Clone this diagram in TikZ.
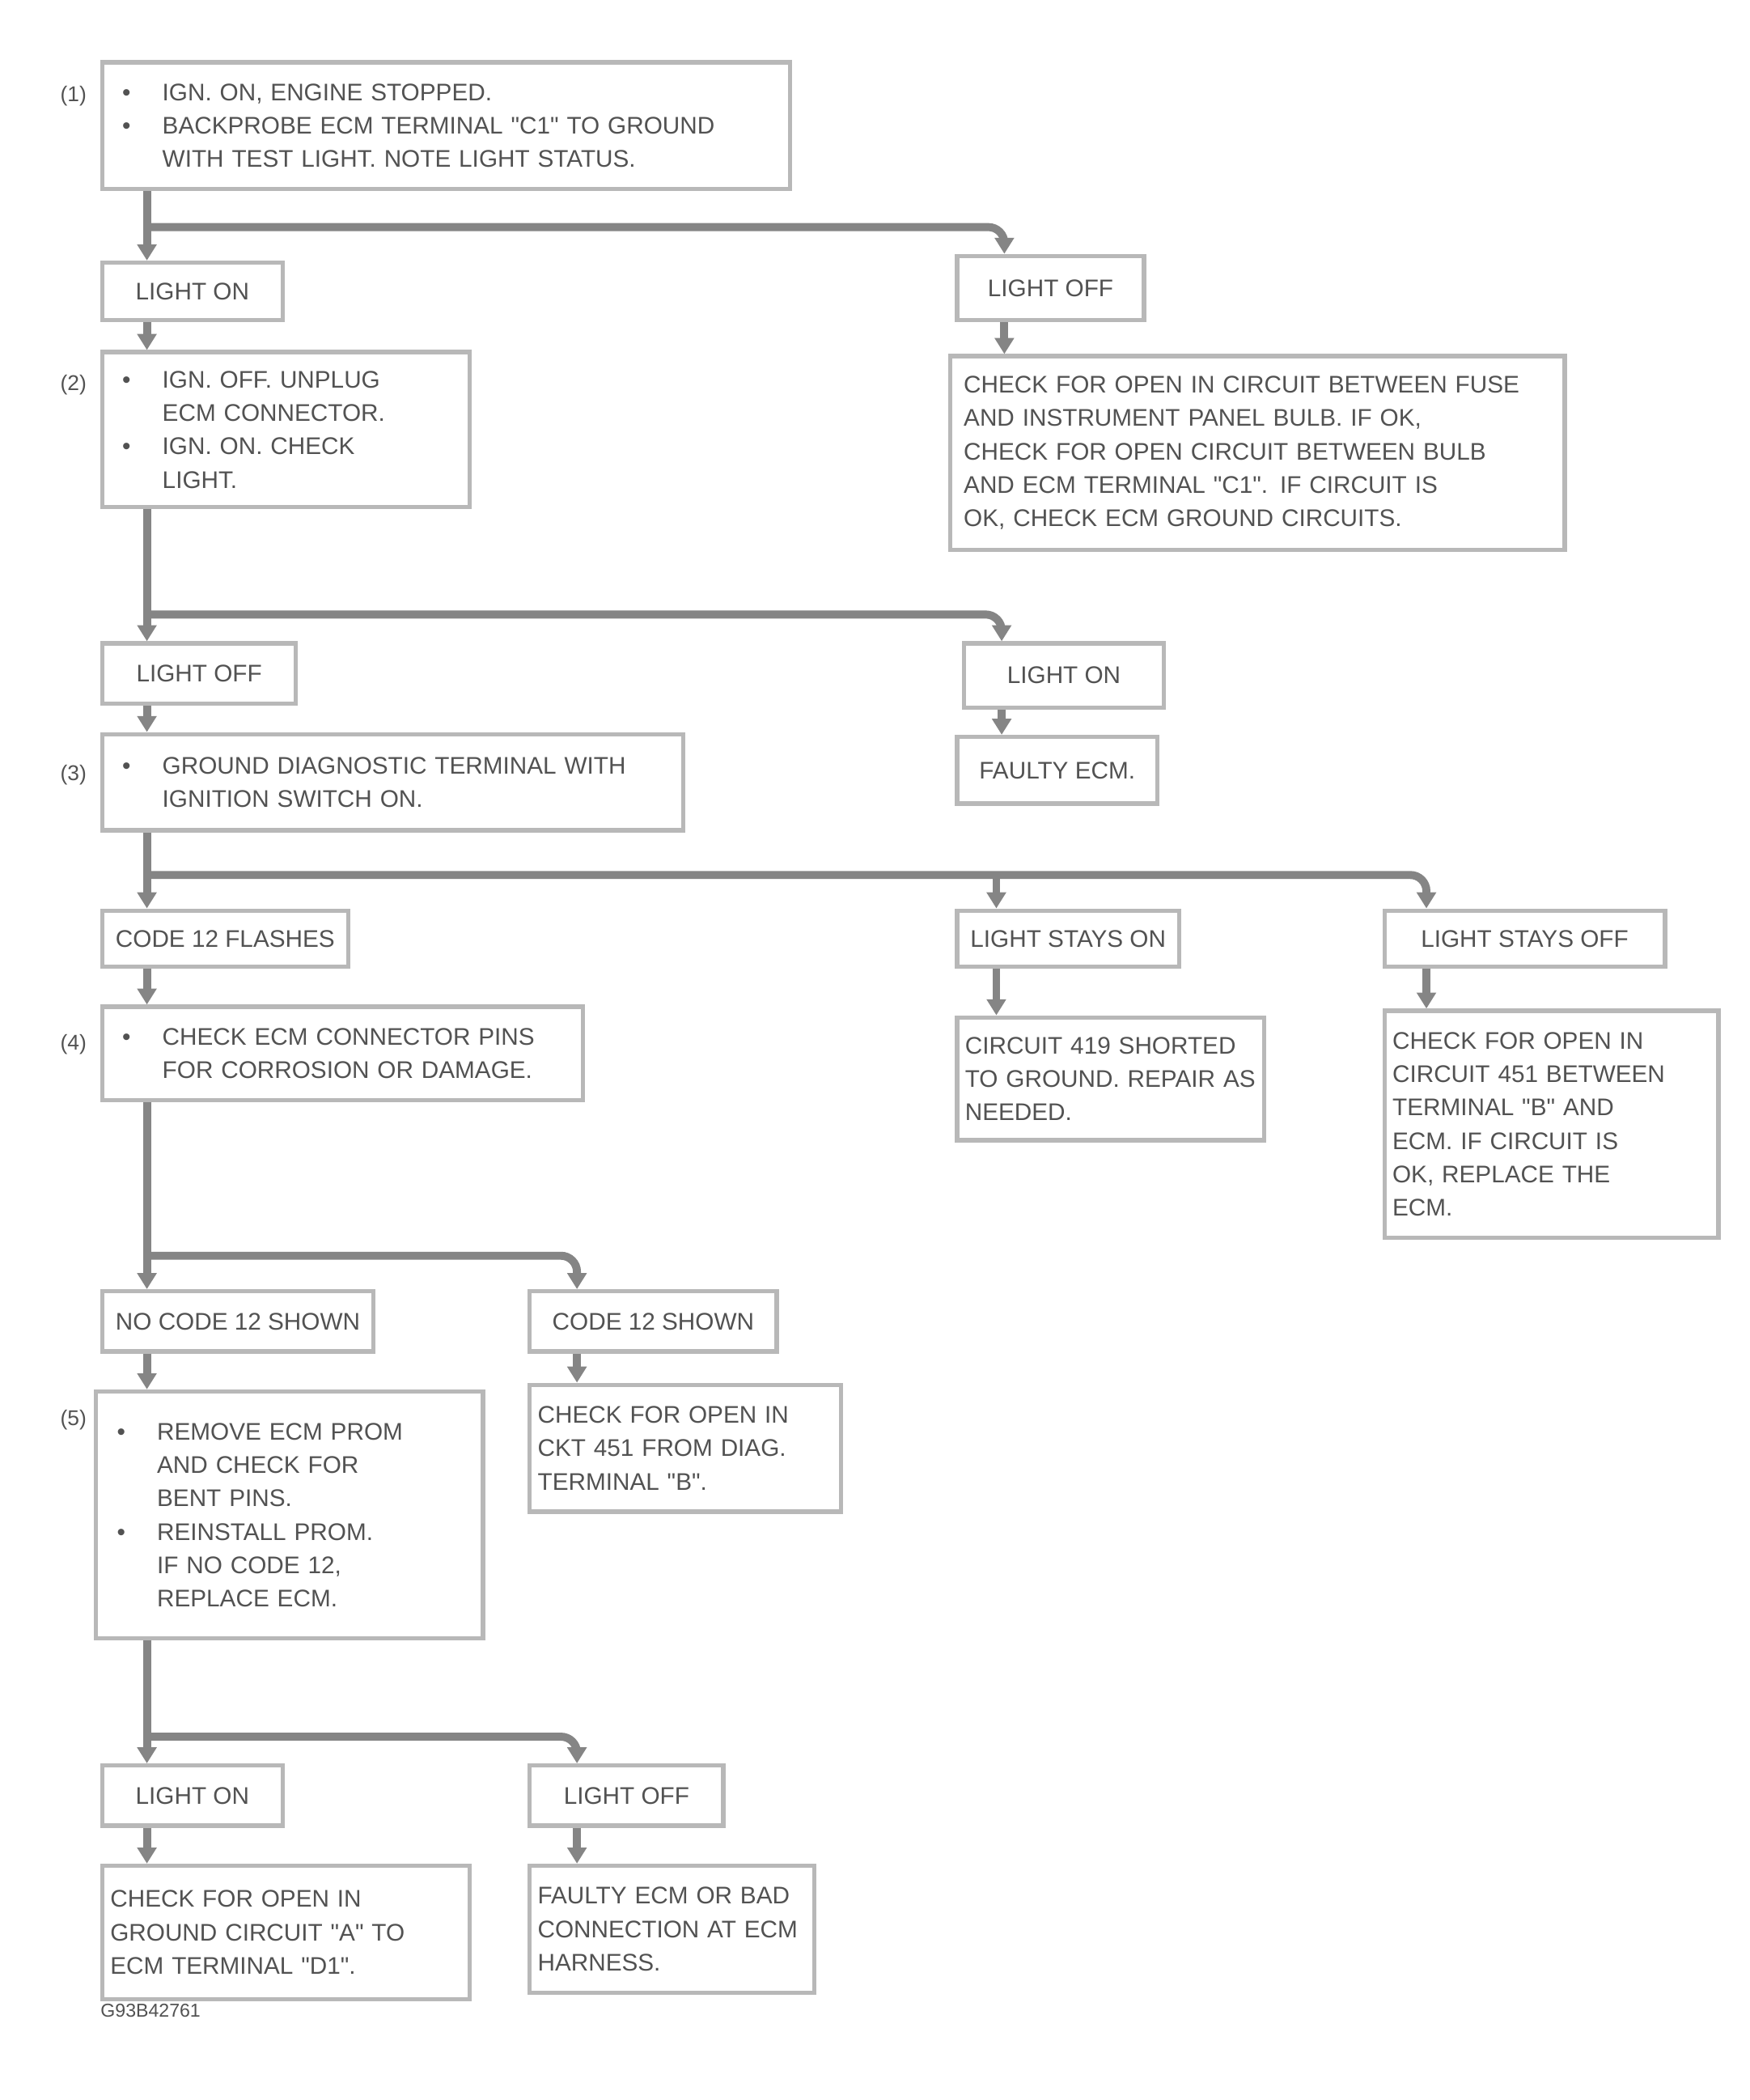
\documentclass[tikz,border=0pt]{standalone}
\usepackage{fontspec}
\setmainfont{Liberation Sans}
\usetikzlibrary{arrows.meta}
\definecolor{boxc}{gray}{0.72}
\definecolor{linec}{gray}{0.52}
\definecolor{txtc}{gray}{0.32}
\newcommand{\bulit}{\makebox[15pt][l]{\textbullet}}
\newcommand{\indt}{\hspace*{15pt}}
\newcommand{\qq}[1]{\textquotedbl#1\textquotedbl}
\begin{document}
\begin{tikzpicture}[x=0.5pt,y=-0.5pt,
  box/.style={draw=boxc, line width=1.6pt, anchor=north west, align=left,
    inner ysep=2pt, inner xsep=5pt, text=txtc,
    font=\fontsize{9}{12.5}\selectfont},
  res/.style={box, align=center},
  steplbl/.style={text=txtc, font=\fontsize{8}{9}\selectfont, inner sep=1pt},
  trunk/.style={draw=linec, line width=3pt},
  arr/.style={trunk, -{Triangle[length=6pt,width=7pt]}},
  figid/.style={text=txtc, font=\fontsize{7}{8}\selectfont, anchor=north west, inner sep=0pt}]
\fill[white] (0,0) rectangle (1310,1572);
\useasboundingbox (0,0) rectangle (1310,1572);

% ---- boxes ----
\node[box, minimum width=257.5pt, minimum height=47.5pt, text width=242.5pt, inner xsep=7.5pt] (b1) at (75,45)
 {\bulit IGN. ON, ENGINE STOPPED.\\
  \bulit BACKPROBE ECM TERMINAL \qq{C1} TO GROUND\\
  \indt WITH TEST LIGHT. NOTE LIGHT STATUS.};
\node[steplbl] (s1) at (55,72) {(1)};

\node[res, minimum width=67.5pt, minimum height=21.5pt] (b2a) at (75,195) {LIGHT ON};
\node[res, minimum width=70pt, minimum height=24pt] (b2b) at (715,190) {LIGHT OFF};

\node[box, minimum width=137.5pt, minimum height=58pt, text width=122.5pt, inner xsep=7.5pt] (b3a) at (75,262)
 {\bulit IGN. OFF. UNPLUG\\
  \indt ECM CONNECTOR.\\
  \bulit IGN. ON. CHECK\\
  \indt LIGHT.};
\node[steplbl] (s2) at (55,288) {(2)};

\node[box, minimum width=230pt, minimum height=72.5pt, text width=220pt] (b3b) at (710,265)
 {CHECK FOR OPEN IN CIRCUIT BETWEEN FUSE\\
  AND INSTRUMENT PANEL BULB. IF OK,\\
  CHECK FOR OPEN CIRCUIT BETWEEN BULB\\
  AND ECM TERMINAL \qq{C1}. IF CIRCUIT IS\\
  OK, CHECK ECM GROUND CIRCUITS.};

\node[res, minimum width=72.5pt, minimum height=22.5pt] (b4a) at (75,480) {LIGHT OFF};
\node[res, minimum width=75pt, minimum height=24pt] (b4b) at (720,480) {LIGHT ON};

\node[box, minimum width=217.5pt, minimum height=36pt, text width=202.5pt, inner xsep=7.5pt] (b5a) at (75,548)
 {\bulit GROUND DIAGNOSTIC TERMINAL WITH\\
  \indt IGNITION SWITCH ON.};
\node[steplbl] (s3) at (55,580) {(3)};

\node[res, minimum width=75pt, minimum height=25pt] (b5b) at (715,550) {FAULTY ECM.};

\node[res, minimum width=87.5pt, minimum height=21pt] (b6a) at (75,680) {CODE 12 FLASHES};
\node[res, minimum width=82.5pt, minimum height=21pt] (b6b) at (715,680) {LIGHT STAYS ON};
\node[res, minimum width=105pt, minimum height=21pt] (b6c) at (1035,680) {LIGHT STAYS OFF};

\node[box, minimum width=180pt, minimum height=35pt, text width=165pt, inner xsep=7.5pt] (b7a) at (75,752)
 {\bulit CHECK ECM CONNECTOR PINS\\
  \indt FOR CORROSION OR DAMAGE.};
\node[steplbl] (s4) at (55,782) {(4)};

\node[box, minimum width=115pt, minimum height=46pt, text width=109pt, inner xsep=3pt] (b7b) at (715,760)
 {CIRCUIT 419 SHORTED\\
  TO GROUND. REPAIR AS\\
  NEEDED.};

\node[box, minimum width=125pt, minimum height=85pt, text width=119pt, inner xsep=3pt] (b7c) at (1035,755)
 {CHECK FOR OPEN IN\\
  CIRCUIT 451 BETWEEN\\
  TERMINAL \qq{B} AND\\
  ECM. IF CIRCUIT IS\\
  OK, REPLACE THE\\
  ECM.};

\node[res, minimum width=100pt, minimum height=22.5pt] (b8a) at (75,965) {NO CODE 12 SHOWN};
\node[res, minimum width=92.5pt, minimum height=22.5pt] (b8b) at (395,965) {CODE 12 SHOWN};

\node[box, minimum width=145pt, minimum height=92.5pt, text width=129pt, inner xsep=8pt] (b9a) at (70,1040)
 {\bulit REMOVE ECM PROM\\
  \indt AND CHECK FOR\\
  \indt BENT PINS.\\
  \bulit REINSTALL PROM.\\
  \indt IF NO CODE 12,\\
  \indt REPLACE ECM.};
\node[steplbl] (s5) at (55,1063) {(5)};

\node[box, minimum width=116.5pt, minimum height=47.5pt, text width=110.5pt, inner xsep=3pt] (b9b) at (395,1035)
 {CHECK FOR OPEN IN\\
  CKT 451 FROM DIAG.\\
  TERMINAL \qq{B}.};

\node[res, minimum width=67.5pt, minimum height=22.5pt] (b10a) at (75,1320) {LIGHT ON};
\node[res, minimum width=72.5pt, minimum height=22.5pt] (b10b) at (395,1320) {LIGHT OFF};

\node[box, minimum width=137.5pt, minimum height=50pt, text width=131.5pt, inner xsep=3pt] (b11a) at (75,1395)
 {CHECK FOR OPEN IN\\
  GROUND CIRCUIT \qq{A} TO\\
  ECM TERMINAL \qq{D1}.};

\node[box, minimum width=106.5pt, minimum height=47.5pt, text width=100.5pt, inner xsep=3pt] (b11b) at (395,1395)
 {FAULTY ECM OR BAD\\
  CONNECTION AT ECM\\
  HARNESS.};

\node[figid] (fid) at (75,1500) {G93B42761};

% ---- connectors ----
\coordinate (j1) at (110,170); \coordinate (r1) at (752,170);
\draw[arr] (b1.south -| j1) -- (j1 |- b2a.north);
\draw[arr, rounded corners=6pt] (j1) -- (r1) -- (r1 |- b2b.north);
\draw[arr] (j1 |- b2a.south) -- (j1 |- b3a.north);
\draw[arr] (r1 |- b2b.south) -- (r1 |- b3b.north);

\coordinate (j2) at (110,460); \coordinate (r2) at (750,460);
\draw[arr] (b3a.south -| j2) -- (j2 |- b4a.north);
\draw[arr, rounded corners=6pt] (j2) -- (r2) -- (r2 |- b4b.north);
\draw[arr] (j2 |- b4a.south) -- (j2 |- b5a.north);
\draw[arr] (r2 |- b4b.south) -- (r2 |- b5b.north);

\coordinate (j3) at (110,655); \coordinate (m3) at (746,655); \coordinate (r3) at (1068,655);
\draw[arr] (b5a.south -| j3) -- (j3 |- b6a.north);
\draw[arr, rounded corners=6pt] (j3) -- (r3) -- (r3 |- b6c.north);
\draw[arr] (m3) -- (m3 |- b6b.north);
\draw[arr] (j3 |- b6a.south) -- (j3 |- b7a.north);
\draw[arr] (m3 |- b6b.south) -- (m3 |- b7b.north);
\draw[arr] (r3 |- b6c.south) -- (r3 |- b7c.north);

\coordinate (j4) at (110,940); \coordinate (r4) at (432,940);
\draw[arr] (b7a.south -| j4) -- (j4 |- b8a.north);
\draw[arr, rounded corners=6pt] (j4) -- (r4) -- (r4 |- b8b.north);
\draw[arr] (j4 |- b8a.south) -- (j4 |- b9a.north);
\draw[arr] (r4 |- b8b.south) -- (r4 |- b9b.north);

\coordinate (j5) at (110,1300); \coordinate (r5) at (432,1300);
\draw[arr] (b9a.south -| j5) -- (j5 |- b10a.north);
\draw[arr, rounded corners=6pt] (j5) -- (r5) -- (r5 |- b10b.north);
\draw[arr] (j5 |- b10a.south) -- (j5 |- b11a.north);
\draw[arr] (r5 |- b10b.south) -- (r5 |- b11b.north);
\end{tikzpicture}
\end{document}
